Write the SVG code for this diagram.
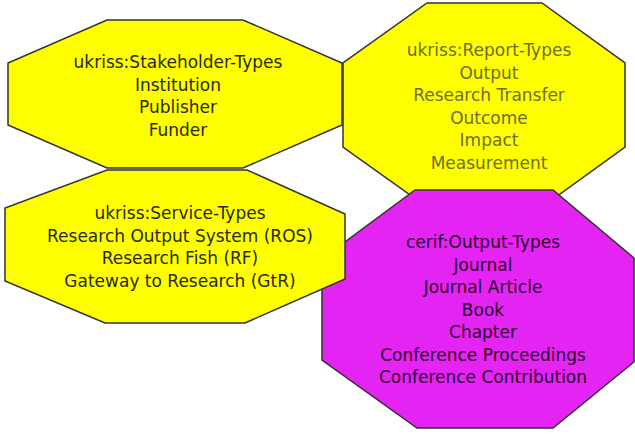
<svg xmlns="http://www.w3.org/2000/svg" width="635" height="434" viewBox="0 0 635 434">
<style>
.oct{stroke:#333333;stroke-width:1.5;stroke-linejoin:miter}
.y{fill:#ffff00}
.m{fill:#e424f2}
text{font-family:"DejaVu Sans","Liberation Sans",sans-serif;font-size:17px;text-anchor:middle}
.t1{fill:#2a2a00}
.t2{fill:#6e6e2c}
.t3{fill:#2e002e}
</style>
<rect width="635" height="434" fill="#ffffff"/>
<g id="connectors"></g>
<g id="stakeholder-types">
<polygon class="oct y" points="107,20 243,20 342,63 342,125 243,168 107,168 8,125 8,63"/>
<text class="t1" x="178" y="68">ukriss:Stakeholder-Types</text>
<text class="t1" x="178" y="90.5">Institution</text>
<text class="t1" x="178" y="113">Publisher</text>
<text class="t1" x="178" y="135.5">Funder</text>
</g>
<g id="report-types">
<polygon class="oct y" points="427,3 542,3 625,63 625,147 542,207 427,207 343,147 343,63"/>
<text class="t2" x="489" y="56">ukriss:Report-Types</text>
<text class="t2" x="489" y="78.5">Output</text>
<text class="t2" x="489" y="101">Research Transfer</text>
<text class="t2" x="489" y="123.5">Outcome</text>
<text class="t2" x="489" y="146">Impact</text>
<text class="t2" x="489" y="168.5">Measurement</text>
</g>
<g id="output-types">
<polygon class="oct m" points="415,190 553,190 634,258 634,362 553,428 417,428 322,360 322,259"/>
<text class="t3" x="483" y="248">cerif:Output-Types</text>
<text class="t3" x="483" y="270.5">Journal</text>
<text class="t3" x="483" y="293">Journal Article</text>
<text class="t3" x="483" y="315.5">Book</text>
<text class="t3" x="483" y="338">Chapter</text>
<text class="t3" x="483" y="360.5">Conference Proceedings</text>
<text class="t3" x="483" y="383">Conference Contribution</text>
</g>
<g id="service-types">
<polygon class="oct y" points="107,170 247,170 345,214 345,279 245,323 105,323 5,281 5,208"/>
<text class="t1" x="180" y="219">ukriss:Service-Types</text>
<text class="t1" x="180" y="241.5">Research Output System (ROS)</text>
<text class="t1" x="180" y="264">Research Fish (RF)</text>
<text class="t1" x="180" y="286.5">Gateway to Research (GtR)</text>
</g>
</svg>
